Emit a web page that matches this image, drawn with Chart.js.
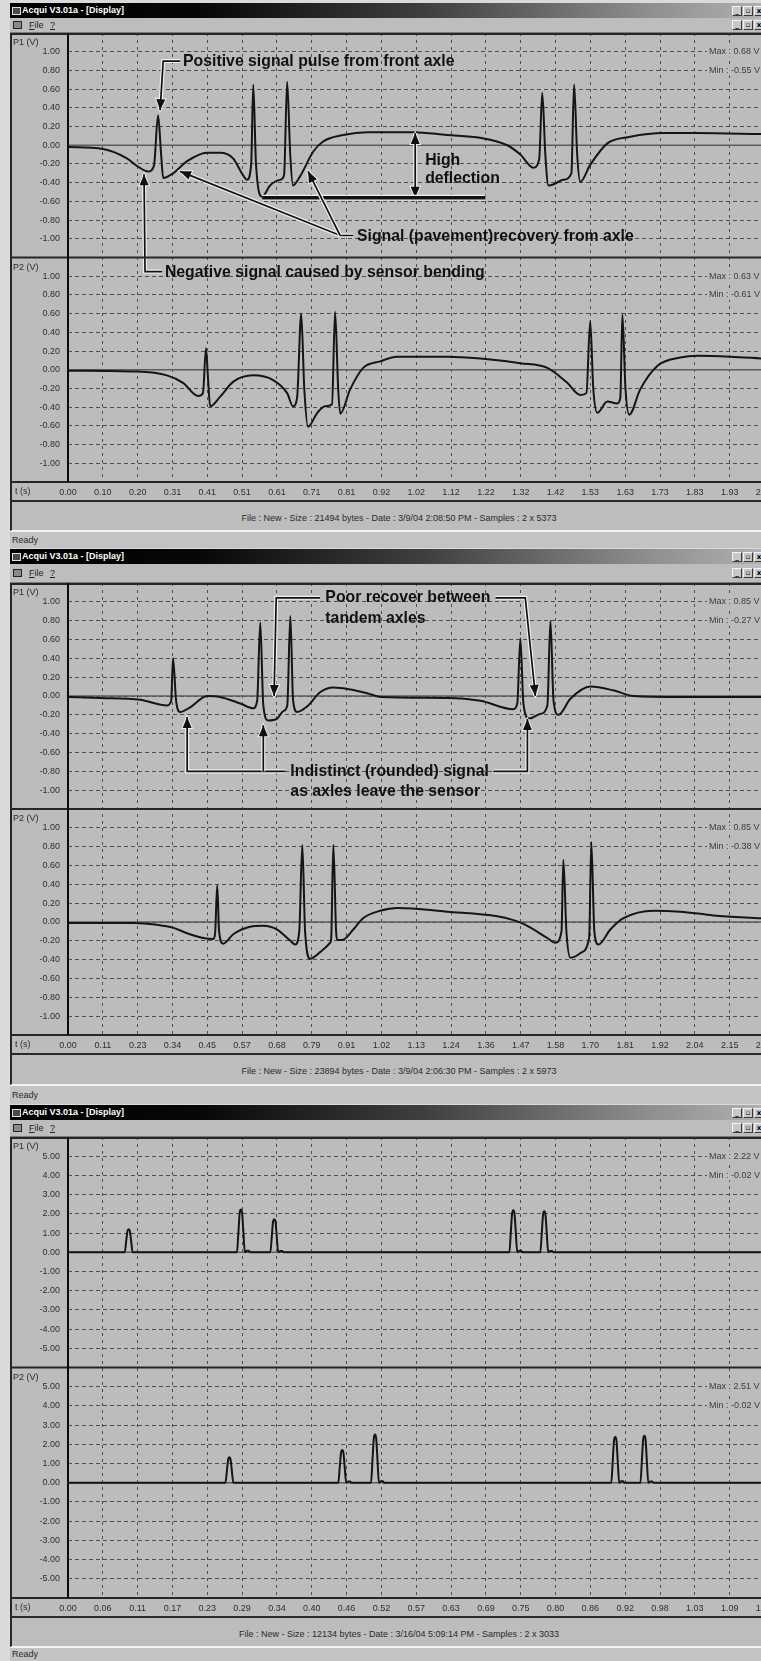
<!DOCTYPE html>
<html>
<head>
<meta charset="utf-8">
<title>Acqui V3.01a - [Display]</title>
<script src="https://cdn.jsdelivr.net/npm/chart.js@4.4.1/dist/chart.umd.min.js"></script>
<style>
  html, body { margin: 0; padding: 0; }
  body { width: 761px; height: 1661px; position: relative; overflow: hidden; background: #dadada;
         font-family: "Liberation Sans", Arial, sans-serif; color: #222; }
  .bar { position: absolute; left: 10px; width: 751px; overflow: hidden; box-sizing: border-box; }
  .title { background: linear-gradient(to right, #000 0%, #070707 25%, #3e3e3e 55%, #8e8e8e 85%, #b0b0b0 100%); }
  .title .ico { position: absolute; left: 2px; top: 50%; margin-top: -4px; width: 7px; height: 6px; border: 1px solid #e0e0e0; background: #4a4a4a; }
  .title .ttl { position: absolute; left: 12px; top: 0; color: #fff; font: bold 9px "Liberation Sans", Arial, sans-serif; line-height: inherit; }
  .menu { background: #bdbdbd; border-bottom: 1px solid #7a7a7a; }
  .menu .ico { position: absolute; left: 3px; top: 50%; margin-top: -4px; width: 7px; height: 6px; border: 1px solid #222; background: #8a8a8a; }
  .menu .mi { position: absolute; top: 0; font: 9px "Liberation Sans", Arial, sans-serif; line-height: inherit; color: #222; }
  .btns { position: absolute; right: -3px; top: 50%; margin-top: -5px; height: 10px; line-height: 10px; }
  .btns b { display: inline-block; width: 8px; height: 8px; margin-left: 1px; background: #c8c8c8;
            border: 1px solid; border-color: #f4f4f4 #3a3a3a #3a3a3a #f4f4f4;
            font: bold 7px "DejaVu Sans", sans-serif; line-height: 8px; text-align: center; color: #000; vertical-align: top; }
  canvas { position: absolute; left: 10px; }
  .info { background: #bdbdbd; border-top: 2px solid #2a2a2a; border-left: 2px solid #2a2a2a; border-bottom: 1px solid #f2f2f2; }
  .info span { position: absolute; left: 387px; top: 11px; transform: translateX(-50%); white-space: nowrap;
               font: 9px "Liberation Sans", Arial, sans-serif; line-height: 11px; color: #2a2a2a; }
  .status { background: #c3c3c3; border-top: 1px solid #f4f4f4; padding-left: 2px; }
  .status span { position: absolute; left: 2px; font: 9px "Liberation Sans", Arial, sans-serif; line-height: 11px; color: #2a2a2a; }
</style>
</head>
<body>
<script>
// ---------- screen 1 : 3/9/04 2:08:50 PM ----------
const s1Step = 0.1017;
const s1XLabels = ['0.00','0.10','0.20','0.31','0.41','0.51','0.61','0.71','0.81','0.92','1.02',
                   '1.12','1.22','1.32','1.42','1.53','1.63','1.73','1.83','1.93','2.03'];
const s1P1T = [0.000, 0.102, 0.172, 0.205, 0.234, 0.251, 0.263, 0.272, 0.278, 0.307, 0.348, 0.406, 0.444, 0.482,
               0.511, 0.523, 0.535, 0.541, 0.549, 0.567, 0.590, 0.619, 0.631, 0.640, 0.649, 0.657, 0.678, 0.716,
               0.745, 0.804, 0.874, 1.008, 1.107, 1.204, 1.283, 1.321, 1.359, 1.376, 1.385, 1.394, 1.403, 1.417,
               1.446, 1.470, 1.478, 1.487, 1.496, 1.525, 1.575, 1.642, 1.739, 1.838, 2.025];
const s1P1V = [-0.02, -0.04, -0.14, -0.23, -0.28, -0.22, 0.32, -0.10, -0.35, -0.30, -0.17, -0.08, -0.08, -0.14,
               -0.32, -0.37, -0.20, 0.65, -0.20, -0.55, -0.43, -0.37, -0.32, 0.68, -0.10, -0.43, -0.33, -0.07,
               0.04, 0.11, 0.14, 0.14, 0.11, 0.08, 0.00, -0.10, -0.24, -0.15, 0.56, -0.10, -0.43, -0.42,
               -0.37, -0.30, 0.65, -0.10, -0.39, -0.21, 0.02, 0.09, 0.13, 0.13, 0.12];
const s1P2T = [0.000, 0.202, 0.289, 0.336, 0.380, 0.394, 0.403, 0.409, 0.415, 0.444, 0.482, 0.541, 0.599, 0.640,
               0.657, 0.669, 0.681, 0.690, 0.701, 0.728, 0.751, 0.771, 0.780, 0.789, 0.795, 0.824, 0.862, 0.912,
               0.961, 1.107, 1.204, 1.321, 1.400, 1.458, 1.496, 1.514, 1.525, 1.534, 1.546, 1.575, 1.604, 1.613,
               1.619, 1.628, 1.639, 1.671, 1.721, 1.788, 1.838, 1.934, 2.025];
const s1P2V = [-0.01, -0.02, -0.06, -0.14, -0.28, -0.25, 0.23, -0.10, -0.39, -0.29, -0.13, -0.06, -0.11, -0.25,
               -0.39, -0.30, 0.60, -0.20, -0.61, -0.46, -0.39, -0.37, 0.62, -0.20, -0.47, -0.21, 0.02, 0.09,
               0.14, 0.14, 0.12, 0.07, 0.02, -0.14, -0.27, -0.25, 0.52, -0.20, -0.46, -0.34, -0.36, -0.30,
               0.59, -0.20, -0.48, -0.21, 0.04, 0.13, 0.15, 0.14, 0.12];
const s1P1Stats = ['Max : 0.68 V', 'Min : -0.55 V'];
const s1P2Stats = ['Max : 0.63 V', 'Min : -0.61 V'];
const s1Info = 'File : New - Size : 21494 bytes - Date : 3/9/04 2:08:50 PM - Samples : 2 x 5373';

// ---------- screen 2 : 3/9/04 2:06:30 PM ----------
const s2Step = 0.1134;
const s2XLabels = ['0.00','0.11','0.23','0.34','0.45','0.57','0.68','0.79','0.91','1.02','1.13',
                   '1.24','1.36','1.47','1.58','1.70','1.81','1.92','2.04','2.15','2.27'];
const s2P1T = [0.000, 0.104, 0.235, 0.323, 0.336, 0.342, 0.352, 0.365, 0.398, 0.453, 0.495, 0.561, 0.603, 0.616,
               0.626, 0.636, 0.652, 0.681, 0.701, 0.714, 0.724, 0.733, 0.746, 0.779, 0.821, 0.864, 0.919, 0.974,
               1.017, 1.235, 1.343, 1.450, 1.463, 1.473, 1.483, 1.502, 1.538, 1.561, 1.571, 1.581, 1.597, 1.636,
               1.701, 1.776, 1.841, 1.994, 2.258];
const s2P1V = [-0.01, -0.02, -0.04, -0.10, -0.05, 0.40, -0.05, -0.17, -0.12, 0.00, -0.01, -0.08, -0.13, -0.05,
               0.78, -0.10, -0.26, -0.24, -0.16, -0.10, 0.85, -0.05, -0.17, -0.11, 0.04, 0.09, 0.07, 0.03,
               -0.01, -0.02, -0.05, -0.14, -0.08, 0.61, -0.08, -0.24, -0.19, -0.10, 0.80, -0.05, -0.20, -0.03,
               0.10, 0.06, 0.00, -0.01, -0.01];
const s2P2T = [0.000, 0.212, 0.290, 0.342, 0.388, 0.440, 0.473, 0.479, 0.486, 0.492, 0.505, 0.538, 0.593, 0.636,
               0.681, 0.724, 0.740, 0.753, 0.763, 0.772, 0.789, 0.821, 0.854, 0.857, 0.864, 0.873, 0.877, 0.893,
               0.929, 0.961, 1.017, 1.072, 1.235, 1.398, 1.483, 1.561, 1.587, 1.607, 1.613, 1.623, 1.636, 1.669,
               1.695, 1.698, 1.704, 1.714, 1.727, 1.766, 1.809, 1.907, 1.994, 2.102, 2.258];
const s2P2V = [-0.01, -0.01, -0.03, -0.06, -0.12, -0.17, -0.18, -0.12, 0.39, -0.10, -0.23, -0.13, -0.05, -0.04,
               -0.08, -0.20, -0.24, -0.10, 0.82, -0.10, -0.39, -0.32, -0.22, -0.18, 0.82, -0.10, -0.19, -0.19,
               -0.08, 0.04, 0.12, 0.15, 0.11, 0.06, -0.02, -0.17, -0.22, -0.10, 0.66, -0.10, -0.38, -0.33,
               -0.20, -0.10, 0.85, -0.10, -0.24, -0.08, 0.04, 0.12, 0.11, 0.07, 0.04];
const s2P1Stats = ['Max : 0.85 V', 'Min : -0.27 V'];
const s2P2Stats = ['Max : 0.85 V', 'Min : -0.38 V'];
const s2Info = 'File : New - Size : 23894 bytes - Date : 3/9/04 2:06:30 PM - Samples : 2 x 5973';

// ---------- screen 3 : 3/16/04 5:09:14 PM ----------
const s3Step = 0.0574;
const s3XLabels = ['0.00','0.06','0.11','0.17','0.23','0.29','0.34','0.40','0.46','0.52','0.57',
                   '0.63','0.69','0.75','0.80','0.86','0.92','0.98','1.03','1.09','1.15'];
const s3P1T = [0, 0.0935, 0.096, 0.098, 0.100, 0.102, 0.104, 0.1065,
               0.2785, 0.281, 0.283, 0.285, 0.287, 0.289, 0.2915, 0.295, 0.298, 0.300,
               0.3335, 0.336, 0.338, 0.340, 0.342, 0.344, 0.3465, 0.350, 0.353, 0.355,
               0.7275, 0.730, 0.732, 0.734, 0.736, 0.738, 0.7405, 0.744, 0.747, 0.749,
               0.7785, 0.781, 0.783, 0.785, 0.787, 0.789, 0.7915, 0.795, 0.798, 0.800, 1.142];
const s3P1V = [0, 0, 0.6, 1.1, 1.2, 1.1, 0.6, 0,
               0, 1.1, 2.05, 2.22, 2.05, 1.1, 0, 0.08, 0.08, 0,
               0, 0.85, 1.6, 1.72, 1.6, 0.85, 0, 0.06, 0.06, 0,
               0, 1.1, 2.0, 2.19, 2.0, 1.1, 0, 0.08, 0.08, 0,
               0, 1.05, 1.95, 2.13, 1.95, 1.05, 0, 0.07, 0.07, 0, 0];
const s3P2T = [0, 0.2595, 0.262, 0.264, 0.266, 0.268, 0.270, 0.2725,
               0.4455, 0.448, 0.450, 0.452, 0.454, 0.456, 0.4585, 0.462, 0.465, 0.467,
               0.4995, 0.502, 0.504, 0.506, 0.508, 0.510, 0.5125, 0.516, 0.519, 0.521,
               0.8955, 0.898, 0.900, 0.902, 0.904, 0.906, 0.9085, 0.912, 0.915, 0.917,
               0.9435, 0.946, 0.948, 0.950, 0.952, 0.954, 0.9565, 0.960, 0.963, 0.965, 1.142];
const s3P2V = [0, 0, 0.65, 1.2, 1.33, 1.2, 0.65, 0,
               0, 0.85, 1.55, 1.70, 1.55, 0.85, 0, 0.06, 0.06, 0,
               0, 1.25, 2.3, 2.51, 2.3, 1.25, 0, 0.08, 0.08, 0,
               0, 1.2, 2.2, 2.38, 2.2, 1.2, 0, 0.08, 0.08, 0,
               0, 1.2, 2.25, 2.45, 2.25, 1.2, 0, 0.07, 0.07, 0, 0];
const s3P1Stats = ['Max : 2.22 V', 'Min : -0.02 V'];
const s3P2Stats = ['Max : 2.51 V', 'Min : -0.02 V'];
const s3Info = 'File : New - Size : 12134 bytes - Date : 3/16/04 5:09:14 PM - Samples : 2 x 3033';

// y tick labels (volts)
const smallVolts = ['1.00','0.80','0.60','0.40','0.20','0.00','-0.20','-0.40','-0.60','-0.80','-1.00'];
const bigVolts = ['5.00','4.00','3.00','2.00','1.00','0.00','-1.00','-2.00','-3.00','-4.00','-5.00'];

// callouts, anchored in data units [t, volts, pane]
const s1Notes = [
  { text: 'Positive signal pulse from front axle', at: [0.336, 0.90, 'p1'] },
  { path: [[0.327, 0.90, 'p1'], [0.278, 0.90, 'p1'], [0.269, 0.375, 'p1']], head: 'end' },
  { text: 'High', at: [1.043, -0.16, 'p1'] },
  { text: 'deflection', at: [1.043, -0.354, 'p1'] },
  { path: [[1.014, 0.13, 'p1'], [1.014, -0.56, 'p1']], head: 'both' },
  { path: [[0.567, -0.56, 'p1'], [1.219, -0.56, 'p1']], head: 'none', width: 3.5 },
  { text: 'Signal (pavement)recovery from axle', at: [0.844, -0.975, 'p1'] },
  { path: [[0.833, -0.965, 'p1'], [0.795, -0.965, 'p1'], [0.327, -0.279, 'p1']], head: 'end' },
  { path: [[0.795, -0.965, 'p1'], [0.701, -0.279, 'p1']], head: 'end' },
  { text: 'Negative signal caused by sensor bending', at: [0.283, 1.04, 'p2'] },
  { path: [[0.275, 1.05, 'p2'], [0.225, 1.05, 'p2'], [0.222, -0.31, 'p1']], head: 'end' }
];
const s2Notes = [
  { text: 'Poor recover between', at: [0.838, 1.043, 'p1'] },
  { text: 'tandem axles', at: [0.838, 0.83, 'p1'] },
  { path: [[0.821, 1.043, 'p1'], [0.678, 1.043, 'p1'], [0.671, 0.0, 'p1']], head: 'end' },
  { path: [[1.392, 1.043, 'p1'], [1.489, 1.043, 'p1'], [1.522, 0.0, 'p1']], head: 'end' },
  { text: 'Indistinct (rounded) signal', at: [0.724, -0.80, 'p1'] },
  { text: 'as axles leave the sensor', at: [0.724, -1.01, 'p1'] },
  { path: [[0.707, -0.80, 'p1'], [0.388, -0.80, 'p1'], [0.388, -0.223, 'p1']], head: 'end' },
  { path: [[0.636, -0.80, 'p1'], [0.636, -0.31, 'p1']], head: 'end' },
  { path: [[1.385, -0.80, 'p1'], [1.496, -0.80, 'p1'], [1.496, -0.245, 'p1']], head: 'end' }
];

// window layout, top to bottom
const screens = [
  { id: 'v1', top: 3, titleH: 15, menuH: 15, plotH: 467, infoH: 31, statusH: 17,
    step: s1Step, xLabels: s1XLabels, yLabels: smallVolts, yLim: 1.2,
    p1: [s1P1T, s1P1V], p2: [s1P2T, s1P2V], stats: [s1P1Stats, s1P2Stats], info: s1Info, notes: s1Notes },
  { id: 'v2', top: 549, titleH: 15, menuH: 19, plotH: 470, infoH: 32, statusH: 19,
    step: s2Step, xLabels: s2XLabels, yLabels: smallVolts, yLim: 1.2,
    p1: [s2P1T, s2P1V], p2: [s2P2T, s2P2V], stats: [s2P1Stats, s2P2Stats], info: s2Info, notes: s2Notes },
  { id: 'v3', top: 1105, titleH: 15, menuH: 17, plotH: 479, infoH: 31, statusH: 14,
    step: s3Step, xLabels: s3XLabels, yLabels: bigVolts, yLim: 6,
    p1: [s3P1T, s3P1V], p2: [s3P2T, s3P2V], stats: [s3P1Stats, s3P2Stats], info: s3Info, notes: [] }
];

const FONT = '"Liberation Sans", Arial, sans-serif';
const INK = '#151515';
const GRID = '#4e4e4e';

function addBar(cls, top, h, html) {
  const d = document.createElement('div');
  d.className = 'bar ' + cls;
  d.style.top = top + 'px';
  d.style.height = h + 'px';
  d.style.lineHeight = h + 'px';
  d.innerHTML = html;
  document.body.appendChild(d);
  return d;
}

function toPoints(t, v) {
  return t.map((x, i) => ({ x: x, y: v[i] }));
}

// arrowhead at `to`, pointing away from `from`
function headPath(ctx, from, to) {
  const a = Math.atan2(to[1] - from[1], to[0] - from[0]);
  const L = 11, W = 4.5;
  ctx.beginPath();
  ctx.moveTo(to[0], to[1]);
  ctx.lineTo(to[0] - L * Math.cos(a) + W * Math.sin(a), to[1] - L * Math.sin(a) - W * Math.cos(a));
  ctx.lineTo(to[0] - L * Math.cos(a) - W * Math.sin(a), to[1] - L * Math.sin(a) + W * Math.cos(a));
  ctx.closePath();
}

function drawNotes(chart, notes) {
  const ctx = chart.ctx;
  const sx = chart.scales.x;
  const toPx = p => [sx.getPixelForValue(p[0]), chart.scales[p[2]].getPixelForValue(p[1])];
  ctx.save();
  notes.forEach(n => {
    if (n.text) {
      const [x, y] = toPx(n.at);
      ctx.save();
      ctx.font = 'bold 17px ' + FONT;
      ctx.textBaseline = 'middle';
      ctx.fillStyle = '#111';
      ctx.translate(x, y);
      ctx.scale(0.93, 1);
      ctx.fillText(n.text, 0, 0);
      ctx.restore();
      return;
    }
    const pts = n.path.map(toPx);
    const heads = [];
    if (n.head === 'end' || n.head === 'both') heads.push([pts[pts.length - 2], pts[pts.length - 1]]);
    if (n.head === 'both') heads.push([pts[1], pts[0]]);
    const w = n.width || 1.7;
    const stroke = (color, lw) => {
      ctx.strokeStyle = color;
      ctx.lineWidth = lw;
      ctx.lineJoin = 'miter';
      ctx.beginPath();
      pts.forEach((p, i) => i ? ctx.lineTo(p[0], p[1]) : ctx.moveTo(p[0], p[1]));
      ctx.stroke();
    };
    stroke('#efefef', w + 2.4);
    heads.forEach(h => { headPath(ctx, h[0], h[1]); ctx.strokeStyle = '#efefef'; ctx.lineWidth = 2; ctx.stroke(); });
    stroke('#111', w);
    heads.forEach(h => { headPath(ctx, h[0], h[1]); ctx.fillStyle = '#111'; ctx.fill(); });
  });
  ctx.restore();
}

const panelPlugin = {
  id: 'panel',
  beforeDraw(chart) {
    const { ctx, width, height } = chart;
    ctx.save();
    ctx.fillStyle = '#bcbcbc';
    ctx.fillRect(0, 0, width, height);
    ctx.restore();
  },
  beforeDatasetsDraw(chart) {
    // solid zero line in each pane
    const { ctx, chartArea, scales } = chart;
    ctx.save();
    ctx.strokeStyle = '#5c5c5c';
    ctx.lineWidth = 1.5;
    ['p1', 'p2'].forEach(id => {
      const y = scales[id].getPixelForValue(0);
      ctx.beginPath();
      ctx.moveTo(chartArea.left, y);
      ctx.lineTo(chartArea.right, y);
      ctx.stroke();
    });
    ctx.restore();
  },
  afterDatasetsDraw(chart) {
    const cfg = screens.find(s => s.id === chart.canvas.id);
    drawNotes(chart, cfg.notes);
  },
  afterDraw(chart) {
    const cfg = screens.find(s => s.id === chart.canvas.id);
    const { ctx, width, height, chartArea, scales } = chart;
    ctx.save();
    // frame lines
    ctx.strokeStyle = '#262626';
    ctx.lineWidth = 2;
    const hline = y => { ctx.beginPath(); ctx.moveTo(0, y); ctx.lineTo(width, y); ctx.stroke(); };
    hline(1);
    hline(scales.p1.bottom);
    hline(chartArea.bottom);
    ctx.beginPath(); ctx.moveTo(1, 0); ctx.lineTo(1, height); ctx.stroke();
    ctx.strokeStyle = '#0c0c0c';
    ctx.beginPath(); ctx.moveTo(chartArea.left, 0); ctx.lineTo(chartArea.left, chartArea.bottom); ctx.stroke();

    // pane names, time label
    ctx.font = '9px ' + FONT;
    ctx.fillStyle = '#2c2c2c';
    ctx.textBaseline = 'middle';
    ctx.textAlign = 'left';
    ctx.fillText('P1 (V)', 3, scales.p1.top + 10);
    ctx.fillText('P2 (V)', 3, scales.p2.top + 10);
    ctx.fillText('t (s)', 5, (chartArea.bottom + height) / 2 + 1);

    // max / min readouts on the two top grid lines
    ['p1', 'p2'].forEach((id, k) => {
      cfg.stats[k].forEach((str, j) => {
        const y = scales[id].getPixelForValue(parseFloat(cfg.yLabels[j]));
        const x = 699;
        ctx.fillStyle = '#bcbcbc';
        ctx.fillRect(x - 2, y - 5, ctx.measureText(str).width + 4, 10);
        ctx.fillStyle = '#3c3c3c';
        ctx.fillText(str, x, y);
      });
    });
    ctx.restore();
  }
};

function yScale(labels, lim, weight) {
  return {
    type: 'linear', position: 'left', stack: 'panes', stackWeight: 1, weight: weight,
    min: -lim, max: lim,
    afterBuildTicks: s => { s.ticks = labels.slice().reverse().map(l => ({ value: parseFloat(l) })); },
    afterFit: s => { s.width = 58; s.paddingTop = 0; s.paddingBottom = 0; },
    ticks: {
      autoSkip: false, padding: 8, color: '#2e2e2e', font: { family: FONT, size: 9 },
      callback: v => labels.find(l => parseFloat(l) === v)
    },
    grid: { color: GRID, lineWidth: 1, drawTicks: false },
    border: { display: false, dash: [4, 3] }
  };
}

function buildScreen(s) {
  const btns = '<span class="btns"><b>_</b><b>&#9643;</b><b>x</b></span>';
  let y = s.top;
  addBar('title', y, s.titleH, '<span class="ico"></span><span class="ttl">Acqui V3.01a - [Display]</span>' + btns);
  y += s.titleH;
  addBar('menu', y, s.menuH, '<span class="ico"></span><span class="mi" style="left:19px"><u>F</u>ile</span>' +
    '<span class="mi" style="left:40px"><u>?</u></span>' + btns);
  y += s.menuH;

  const c = document.createElement('canvas');
  c.id = s.id;
  c.width = 751;
  c.height = s.plotH;
  c.style.top = y + 'px';
  document.body.appendChild(c);
  y += s.plotH;

  addBar('info', y, s.infoH, '<span>' + s.info + '</span>');
  y += s.infoH;
  const st = addBar('status', y, s.statusH, '<span>Ready</span>');
  st.querySelector('span').style.top = Math.round(s.statusH / 2 - 6) + 'px';

  new Chart(c, {
    type: 'line',
    data: {
      datasets: [
        { label: 'P1', yAxisID: 'p1', data: toPoints(s.p1[0], s.p1[1]) },
        { label: 'P2', yAxisID: 'p2', data: toPoints(s.p2[0], s.p2[1]) }
      ]
    },
    options: {
      responsive: false,
      animation: false,
      devicePixelRatio: 1,
      layout: { padding: 0 },
      elements: {
        point: { radius: 0, hoverRadius: 0 },
        line: { borderColor: INK, borderWidth: 2, cubicInterpolationMode: 'monotone', borderJoinStyle: 'round', fill: false }
      },
      plugins: { legend: { display: false }, tooltip: { enabled: false } },
      scales: {
        x: {
          type: 'linear', position: 'bottom', min: 0, max: s.step * 19.9,
          afterBuildTicks: sc => { sc.ticks = s.xLabels.map((l, i) => ({ value: i * s.step })); },
          afterFit: sc => { sc.height = 18; sc.paddingLeft = 0; sc.paddingRight = 0; },
          ticks: {
            autoSkip: false, maxRotation: 0, padding: 5, color: '#2e2e2e', font: { family: FONT, size: 9 },
            callback: (v, i) => s.xLabels[i]
          },
          grid: { color: GRID, lineWidth: 1, drawTicks: false },
          border: { display: false, dash: [3, 4] }
        },
        p2: yScale(s.yLabels, s.yLim, 1),
        p1: yScale(s.yLabels, s.yLim, 2)
      }
    },
    plugins: [panelPlugin]
  });
}

screens.forEach(buildScreen);
</script>
</body>
</html>
